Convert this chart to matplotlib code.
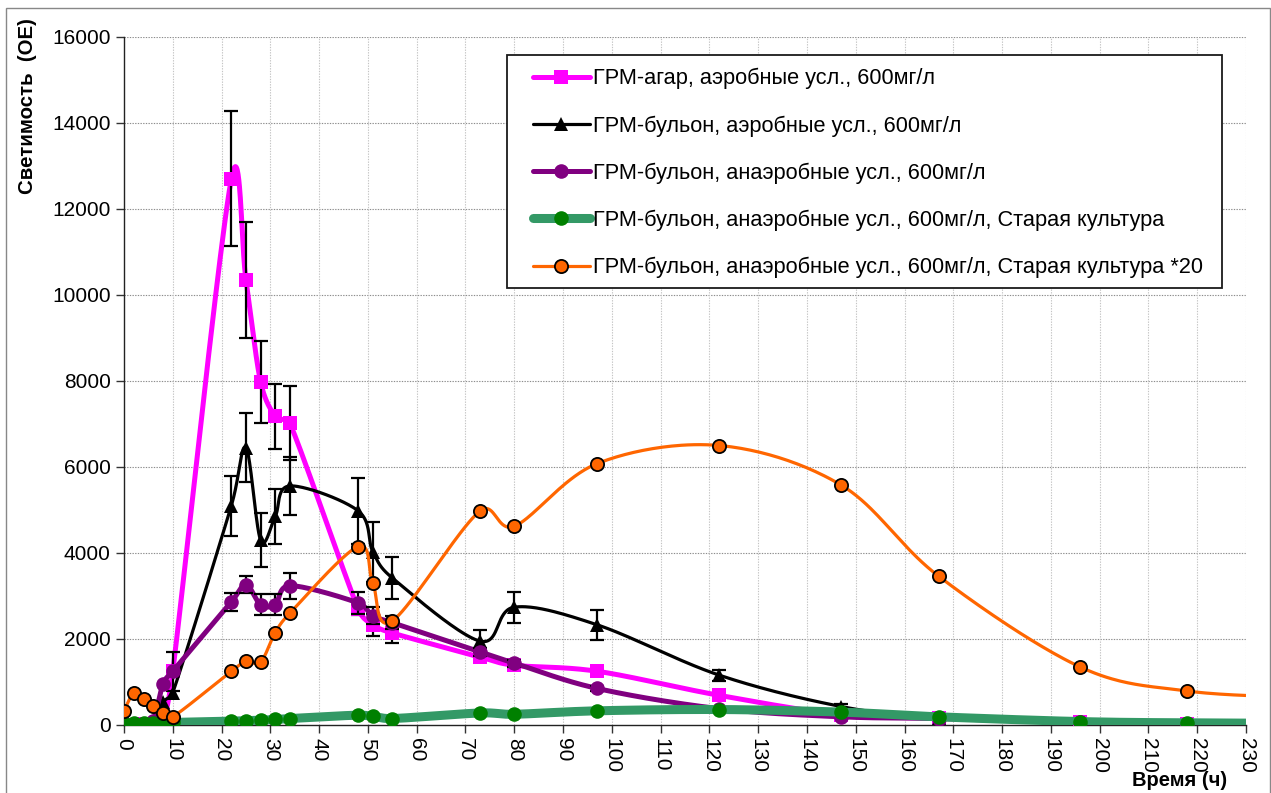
import numpy as np
import matplotlib
matplotlib.use("Agg")
import matplotlib.pyplot as plt
from matplotlib.patches import Rectangle

plt.rcParams['font.family'] = ['Liberation Sans', 'DejaVu Sans']

# Sampling times, hours
t = [0, 2, 4, 6, 8, 10, 22, 25, 28, 31, 34, 48, 51, 55, 73, 80, 97, 122, 147, 167, 196, 218]
t_old = t + [242]

agar_aer = [0, 10, 20, 30, 80, 1250, 12700, 10350, 7980, 7180, 7020, 2700, 2330, 2140,
            1580, 1390, 1250, 690, 240, 160, 60, 30]
agar_aer_err = [0, 0, 0, 0, 0, 450, 1570, 1350, 960, 750, 860, 150, 250, 230,
                120, 100, 0, 0, 0, 0, 0, 0]

broth_aer = [0, 0, 20, 50, 530, 750, 5100, 6450, 4300, 4850, 5560, 4980, 4030, 3420,
             1950, 2740, 2330, 1160, 430, 170, 50, 30]
broth_aer_err = [0, 0, 0, 0, 0, 0, 700, 800, 620, 630, 670, 770, 700, 490,
                 250, 360, 350, 130, 60, 0, 0, 0]

broth_anaer = [0, 0, 10, 100, 950, 1250, 2860, 3260, 2800, 2800, 3240, 2840, 2540, 2380,
               1700, 1440, 850, 380, 190, 150, 60, 30]
broth_anaer_err = [0, 0, 0, 0, 0, 0, 210, 200, 250, 250, 300, 250, 200, 150,
                   100, 80, 60, 0, 0, 0, 0, 0]

old_culture = [40, 50, 50, 50, 60, 60, 90, 100, 110, 130, 150, 230, 200, 150,
               280, 250, 330, 360, 300, 190, 80, 50, 40]
old_culture_x20 = [330, 740, 600, 440, 270, 190, 1250, 1480, 1460, 2150, 2600, 4150, 3300, 2420,
                   4980, 4620, 6080, 6500, 5580, 3460, 1350, 790, 640]

labels = [
    "ГРМ-агар, аэробные усл., 600мг/л",
    "ГРМ-бульон, аэробные усл., 600мг/л",
    "ГРМ-бульон, анаэробные усл., 600мг/л",
    "ГРМ-бульон, анаэробные усл., 600мг/л, Старая культура",
    "ГРМ-бульон, анаэробные усл., 600мг/л, Старая культура *20",
]

x_ticks = list(range(0, 231, 10))
y_ticks = list(range(0, 16001, 2000))
XMAX, YMAX = 230, 16000

W, H = 1271, 793
fig = plt.figure(figsize=(W / 100, H / 100), dpi=100)
ax = fig.add_axes([124 / W, 1 - 725 / H, (1246 - 124) / W, (725 - 37) / H])
ax.set_xlim(0, XMAX)
ax.set_ylim(0, YMAX)

# scale factors so the smoothing works in screen-like units
SX = 1122 / XMAX
SY = 688 / YMAX


def smooth(xs, ys, n=40):
    """Bezier smoothing through all points; control arms are 1/6 of the
    neighbour chord, limited to half of the adjacent segment length."""
    P = np.column_stack([np.asarray(xs, float) * SX, np.asarray(ys, float) * SY])
    m = len(P)
    c_out = np.zeros_like(P)
    c_in = np.zeros_like(P)
    for i in range(m):
        p0 = P[i - 1] if i > 0 else P[i]
        p2 = P[i + 1] if i < m - 1 else P[i]
        chord = p2 - p0
        L = np.hypot(*chord)
        d = chord / L if L > 0 else np.zeros(2)
        d_prev = np.hypot(*(P[i] - p0))
        d_next = np.hypot(*(p2 - P[i]))
        c_out[i] = P[i] + d * min(L / 6.0, d_next / 2.0)
        c_in[i] = P[i] - d * min(L / 6.0, d_prev / 2.0)
    out = []
    for i in range(m - 1):
        p1, p2 = P[i], P[i + 1]
        c1, c2 = c_out[i], c_in[i + 1]
        s = np.linspace(0, 1, n, endpoint=(i == m - 2))[:, None]
        seg = ((1 - s) ** 3) * p1 + 3 * ((1 - s) ** 2) * s * c1 + 3 * (1 - s) * s ** 2 * c2 + s ** 3 * p2
        out.append(seg)
    pts = np.vstack(out)
    return pts[:, 0] / SX, pts[:, 1] / SY


def series(xs, ys, err, color, lw, marker, ms, mfc, mec, mew, z, label):
    sx, sy = smooth(xs, ys)
    ax.plot(sx, sy, color=color, lw=lw, zorder=z, solid_capstyle='round')
    if err is not None:
        e = np.asarray(err, float)
        mask = e > 0
        ax.errorbar(np.asarray(xs)[mask], np.asarray(ys)[mask], yerr=e[mask], fmt='none',
                    ecolor='black', elinewidth=1.6, capsize=5, capthick=1.6, zorder=z + 0.1)
    ax.plot(xs, ys, ls='none', marker=marker, ms=ms, mfc=mfc, mec=mec, mew=mew,
            zorder=z + 0.2)
    # legend proxy
    ax.plot([], [], color=color, lw=lw, marker=marker, ms=ms, mfc=mfc, mec=mec, mew=mew,
            label=label, solid_capstyle='round')


series(t, agar_aer, agar_aer_err, '#FF00FF', 3.6, 's', 9.5, '#FF00FF', '#FF00FF', 0, 3, labels[0])
series(t, broth_aer, broth_aer_err, 'black', 2.3, '^', 10.5, 'black', 'black', 0, 4, labels[1])
series(t, broth_anaer, broth_anaer_err, '#800080', 3.6, 'o', 10.5, '#800080', '#800080', 0, 5, labels[2])
series(t_old, old_culture, None, '#339966', 6.5, 'o', 10.5, '#008000', '#008000', 0, 6, labels[3])
series(t_old, old_culture_x20, None, '#FF6600', 2.3, 'o', 9.5, '#FF6600', 'black', 1.3, 7, labels[4])

# grid
for yv in y_ticks[1:]:
    ax.axhline(yv, color='#8c8c8c', lw=0.8, ls=(0, (1.2, 1.2)), zorder=1)
for xv in x_ticks[1:]:
    ax.axvline(xv, color='#c4c4c4', lw=0.8, ls=(0, (1.2, 1.2)), zorder=1)

ax.set_xticks(x_ticks)
ax.set_xticklabels([str(v) for v in x_ticks], rotation=-90, fontsize=15)
ax.set_yticks(y_ticks)
ax.set_yticklabels([str(v) for v in y_ticks], fontsize=15)
ax.tick_params(axis='both', direction='out', length=6, width=1, color='#333333', pad=3.6)
for side in ('top', 'right'):
    ax.spines[side].set_visible(False)
for side in ('left', 'bottom'):
    ax.spines[side].set_color('#222222')
    ax.spines[side].set_linewidth(1.0)

fig.text(28 / W, 1 - 106 / H, "Светимость  (ОЕ)", rotation=90, ha='center', va='center',
         fontsize=14.7, fontweight='bold')
fig.text(1180 / W, 1 - 781 / H, "Время (ч)", ha='center', va='center',
         fontsize=14.5, fontweight='bold')

# legend box
fig.patches.append(Rectangle((507 / W, 1 - 288 / H), (1222 - 507) / W, (288 - 55) / H,
                             transform=fig.transFigure, fc='white', ec='#1a1a1a', lw=1.3,
                             zorder=10))
handles, labs = ax.get_legend_handles_labels()
leg = fig.legend(handles, labs, loc='upper left', bbox_to_anchor=(533 / W, 1 - 68 / H),
                 bbox_transform=fig.transFigure, fontsize=15.7, frameon=False,
                 handlelength=2.6, handletextpad=0.14, labelspacing=1.19,
                 borderpad=0, borderaxespad=0)
leg.set_zorder(11)

# figure border
fig.patches.append(Rectangle((6 / W, -0.01), (1270 - 6) / W, 1 - 8 / H + 0.01,
                             transform=fig.transFigure, fill=False, ec='#888888', lw=1.0))

fig.savefig("out.png", dpi=100)
